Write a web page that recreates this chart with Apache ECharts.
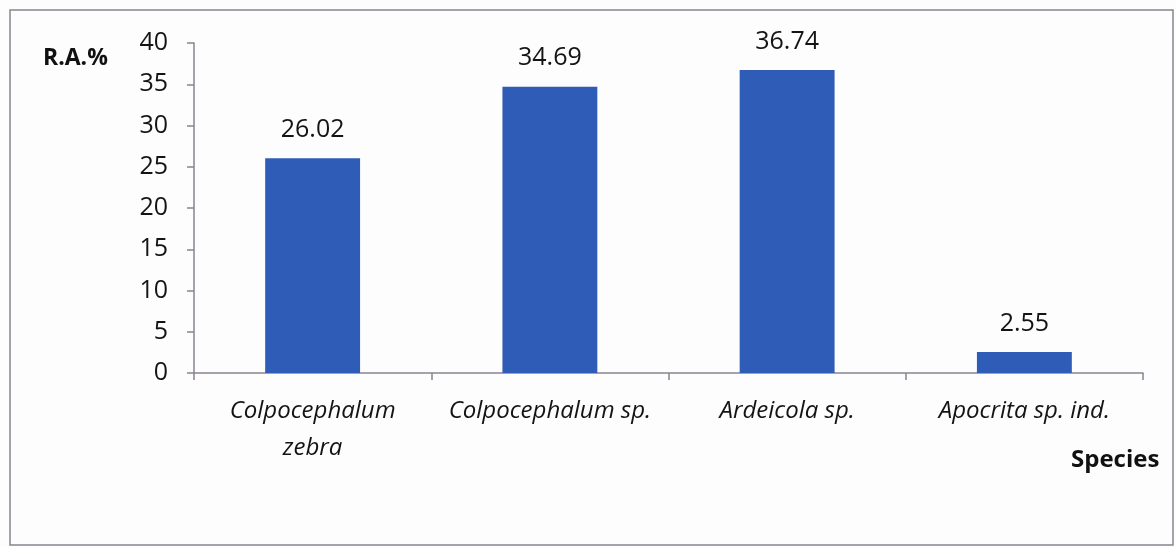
<!DOCTYPE html>
<html>
<head>
<meta charset="utf-8">
<script src="https://cdn.jsdelivr.net/npm/echarts@6/dist/echarts.min.js"></script>
<style>
  html, body { margin: 0; padding: 0; background: #ffffff; }
  #chart { width: 1176px; height: 547px; }
</style>
</head>
<body>
<div id="chart"></div>
<script>
// Relative abundance (%) of each louse / parasite taxon
const species = ['Colpocephalum\nzebra', 'Colpocephalum sp.', 'Ardeicola sp.', 'Apocrita sp. ind.'];
const relAbundance = [26.02, 34.69, 36.74, 2.55];
const yTicks = { min: 0, max: 40, step: 5 };

const FONT = '"Open Sans", Lato, sans-serif';
const AXIS_COLOR = '#8a8391';
const BAR_COLOR = '#2f5cb6';

const chart = echarts.init(document.getElementById('chart'), null, { renderer: 'canvas' });

chart.setOption({
  backgroundColor: '#fdfdfd',
  animation: false,
  grid: { left: 194, right: 33, top: 43, bottom: 174, containLabel: false },
  xAxis: {
    type: 'category',
    data: species,
    axisLine: { show: true, lineStyle: { color: AXIS_COLOR, width: 1.5 } },
    axisTick: { show: true, alignWithLabel: false, length: 7, lineStyle: { color: AXIS_COLOR, width: 1.5 } },
    axisLabel: {
      margin: 20,
      color: '#141414',
      fontFamily: FONT,
      fontStyle: 'italic',
      fontSize: 24,
      lineHeight: 37,
      interval: 0
    },
    splitLine: { show: false }
  },
  yAxis: {
    type: 'value',
    min: yTicks.min,
    max: yTicks.max,
    interval: yTicks.step,
    axisLine: { show: true, lineStyle: { color: AXIS_COLOR, width: 1.5 } },
    axisTick: { show: true, length: 7, lineStyle: { color: AXIS_COLOR, width: 1.5 } },
    axisLabel: { margin: 26, color: '#141414', fontFamily: FONT, fontSize: 25 },
    splitLine: { show: false }
  },
  series: [{
    type: 'bar',
    data: relAbundance,
    barWidth: '40%',
    itemStyle: { color: BAR_COLOR },
    label: {
      show: true,
      position: 'top',
      distance: 16,
      color: '#141414',
      fontFamily: FONT,
      fontSize: 25,
      formatter: p => p.value.toFixed(2)
    }
  }],
  graphic: [
    {
      type: 'rect',
      silent: true,
      shape: { x: 10, y: 10, width: 1163, height: 535 },
      style: { fill: 'none', stroke: AXIS_COLOR, lineWidth: 1.5 },
      z: 0
    },
    {
      type: 'text',
      left: 43, top: 47,
      style: { text: 'R.A.%', font: 'bold 23px ' + FONT, fill: '#111111' }
    },
    {
      type: 'text',
      left: 1071, top: 448,
      style: { text: 'Species', font: 'bold 24px ' + FONT, fill: '#111111' }
    }
  ]
});
</script>
</body>
</html>
